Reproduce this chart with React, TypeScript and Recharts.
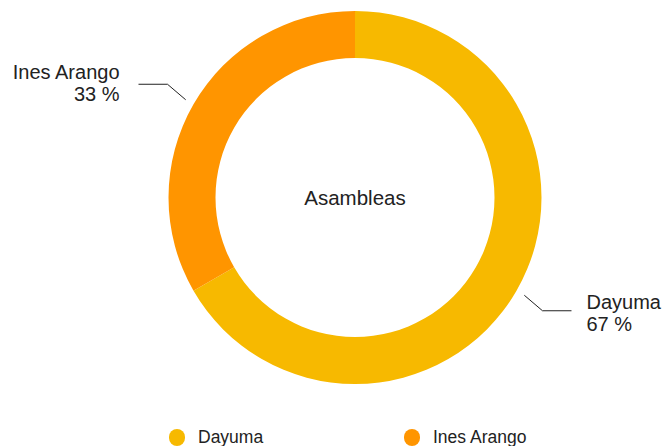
import React from 'react';
import { PieChart, Pie, Cell } from 'recharts';

const names = ['Dayuma', 'Ines Arango'];
const values = [2, 1];
const COLORS = ['#F7B900', '#FF9500'];
const TITLE = 'Asambleas';

const data = names.map((name, i) => ({ name, value: values[i] }));

const RADIAN = Math.PI / 180;
const FONT = '"Liberation Sans", Arial, Helvetica, sans-serif';

const renderLabel = (props: any) => {
  const { cx, cy, midAngle, outerRadius, percent, name } = props;
  const cos = Math.cos(-midAngle * RADIAN);
  const sin = Math.sin(-midAngle * RADIAN);
  const sx = cx + (outerRadius + 9) * cos;
  const sy = cy + (outerRadius + 9) * sin;
  const mx = cx + (outerRadius + 30) * cos;
  const my = cy + (outerRadius + 40) * sin;
  const right = cos >= 0;
  const ex = mx + (right ? 29 : -29);
  const tx = ex + (right ? 15 : -19);
  const ty = right ? my - 2 : my - 5;
  return (
    <g>
      <path d={`M${sx},${sy}L${mx},${my}L${ex},${my}`} stroke="#222" strokeWidth={1} fill="none" />
      <text x={tx} y={ty} textAnchor={right ? 'start' : 'end'} fill="#222" fontSize={20} fontFamily={FONT}>
        <tspan x={tx} dy={0}>{name}</tspan>
        <tspan x={tx} dy={22}>{`${Math.round(percent * 100)} %`}</tspan>
      </text>
    </g>
  );
};

export default function App() {
  return (
    <div style={{ position: 'absolute', left: 0, top: 0, width: 667, height: 446, background: '#fff' }}>
      <PieChart width={667} height={446} margin={{ top: 0, right: 0, bottom: 0, left: 0 }}>
        <Pie
          data={data}
          dataKey="value"
          nameKey="name"
          cx={355}
          cy={197.5}
          innerRadius={139.5}
          outerRadius={186.5}
          startAngle={90}
          endAngle={-270}
          stroke="none"
          label={renderLabel}
          labelLine={false}
          isAnimationActive={false}
        >
          {data.map((_, i) => (
            <Cell key={i} fill={COLORS[i]} />
          ))}
        </Pie>
      </PieChart>
      {/* center title */}
      <div style={{ position: 'absolute', left: 255, top: 186, width: 200, textAlign: 'center', fontFamily: FONT, fontSize: 20.5, lineHeight: '24px', color: '#222' }}>
        {TITLE}
      </div>
      {/* legend */}
      <div style={{ position: 'absolute', left: 0, top: 428, width: 667, height: 18, fontFamily: FONT, fontSize: 17.5, color: '#222' }}>
        {names.map((n, i) => (
          <div key={n} style={{ position: 'absolute', left: i === 0 ? 169 : 404, top: 0, height: 18, display: 'flex', alignItems: 'center' }}>
            <span style={{ display: 'inline-block', width: 16, height: 17, borderRadius: 8.5, background: COLORS[i], marginRight: 13 }} />
            <span>{n}</span>
          </div>
        ))}
      </div>
    </div>
  );
}
